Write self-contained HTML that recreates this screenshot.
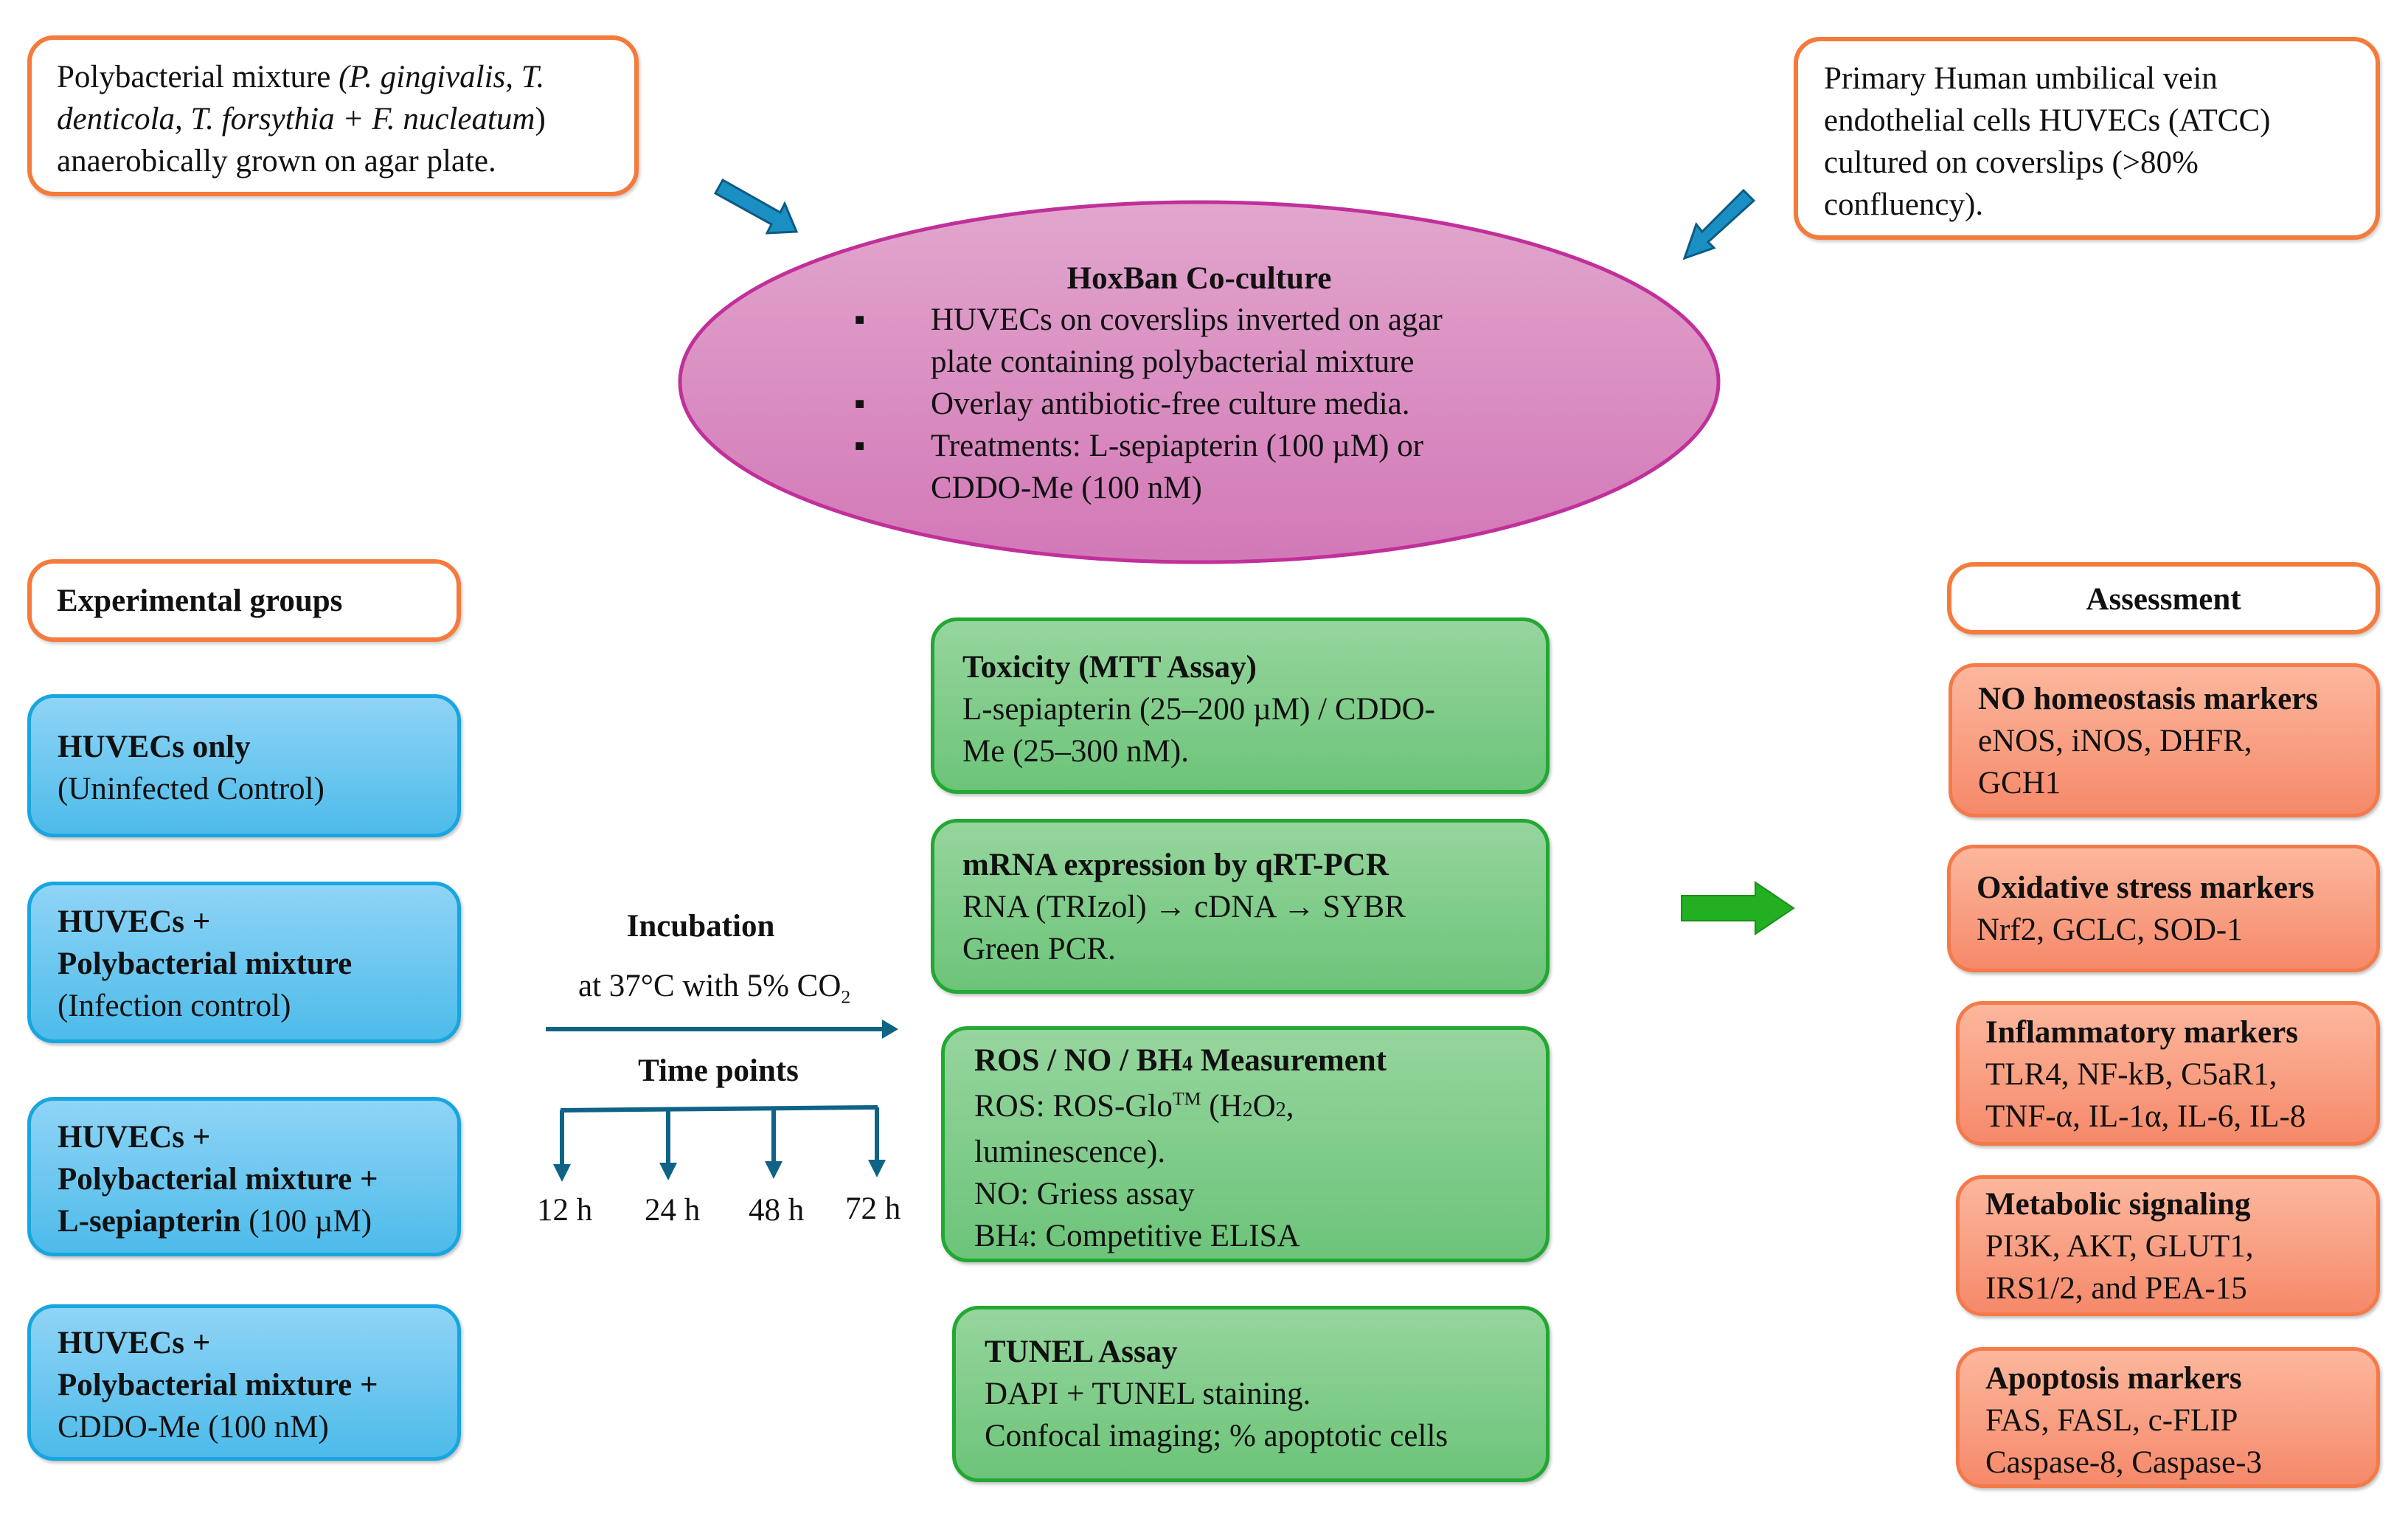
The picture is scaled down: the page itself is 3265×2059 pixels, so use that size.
<!DOCTYPE html>
<html><head><meta charset="utf-8"><style>
html,body{margin:0;padding:0;background:#fff}
body{width:3265px;height:2059px;position:relative;overflow:hidden;font-family:"Liberation Serif",serif;font-size:43px;line-height:57px;color:#111}
.b{position:absolute;box-sizing:border-box;border-radius:36px}
.w{background:#fff;border:6px solid #f47b3b;box-shadow:2px 3px 4px rgba(0,0,0,.2)}
.bl{background:linear-gradient(#8fd4f6,#4dbbea);border:5px solid #17a6df;box-shadow:2px 3px 4px rgba(0,0,0,.25)}
.g{background:linear-gradient(#96d59d,#6cc479);border:5px solid #22a833;box-shadow:2px 3px 4px rgba(0,0,0,.25)}
.o{background:linear-gradient(#fcb79d,#f6896a);border:5px solid #f47a4a;box-shadow:2px 3px 4px rgba(0,0,0,.25)}
b{font-weight:bold}
.t{position:absolute;white-space:nowrap}
sub,sup{font-size:60%;line-height:0}
</style></head><body>

<div class="b w" style="left:37px;top:48px;width:829px;height:218px;padding:22px 0 0 34px">Polybacterial mixture <i>(P. gingivalis, T.<br>denticola, T. forsythia + F. nucleatum</i>)<br>anaerobically grown on agar plate.</div>

<div class="b w" style="left:2432px;top:50px;width:795px;height:275px;padding:22px 0 0 35px">Primary Human umbilical vein<br>endothelial cells HUVECs (ATCC)<br>cultured on coverslips (&gt;80%<br>confluency).</div>

<svg style="position:absolute;left:0;top:0" width="3265" height="2059">
<defs>
<linearGradient id="el" x1="0" y1="0" x2="0" y2="1"><stop offset="0" stop-color="#e2a6cd"/><stop offset="1" stop-color="#d278b7"/></linearGradient>
</defs>
<ellipse cx="1626" cy="518" rx="704" ry="244" fill="url(#el)" stroke="#c1309a" stroke-width="5"/>
<!-- blue fat arrows -->
<g fill="#1a8fc4" stroke="#0d5a82" stroke-width="3">
<polygon points="970,262 980,244 1058,288 1064,276 1080,314 1040,316 1046,304 "/>
<polygon points="2378,272 2364,258 2308,314 2300,304 2284,350 2324,336 2316,328"/>
</g>
<!-- green arrow -->
<polygon points="2280,1214 2380,1214 2380,1196 2432,1231 2380,1266 2380,1248 2280,1248" fill="#22b022" stroke="#1a8e1a" stroke-width="2"/>
<!-- incubation arrow -->
<g stroke="#0e6387" stroke-width="6" fill="#0e6387">
<line x1="740" y1="1395" x2="1200" y2="1395"/>
<polygon points="1196,1382 1218,1395 1196,1408" stroke="none"/>
<polyline points="760,1505 1190,1501" fill="none"/>
<line x1="762" y1="1505" x2="762" y2="1582"/>
<line x1="906" y1="1504" x2="906" y2="1580"/>
<line x1="1049" y1="1503" x2="1049" y2="1578"/>
<line x1="1189" y1="1501" x2="1189" y2="1576"/>
<polygon points="750,1578 774,1578 762,1602" stroke="none"/>
<polygon points="894,1576 918,1576 906,1600" stroke="none"/>
<polygon points="1037,1574 1061,1574 1049,1598" stroke="none"/>
<polygon points="1177,1572 1201,1572 1189,1596" stroke="none"/>
</g>
</svg>

<div class="t" style="left:0;width:3252px;top:349px;text-align:center"><b>HoxBan Co-culture</b></div>
<div class="t" style="left:1158px;top:405px">▪</div>
<div class="t" style="left:1158px;top:519px">▪</div>
<div class="t" style="left:1158px;top:576px">▪</div>
<div class="t" style="left:1262px;top:405px">HUVECs on coverslips inverted on agar<br>plate containing polybacterial mixture<br>Overlay antibiotic-free culture media.<br>Treatments: L-sepiapterin (100 µM) or<br>CDDO-Me (100 nM)</div>

<div class="b w" style="left:37px;top:758px;width:588px;height:112px;padding:22px 0 0 34px"><b>Experimental groups</b></div>
<div class="b w" style="left:2640px;top:762px;width:587px;height:98px;padding:16px 0 0 0;text-align:center"><b>Assessment</b></div>

<div class="b bl" style="left:37px;top:941px;width:588px;height:194px;padding:38px 0 0 36px"><b>HUVECs only</b><br>(Uninfected Control)</div>
<div class="b bl" style="left:37px;top:1195px;width:588px;height:219px;padding:21px 0 0 36px"><b>HUVECs +<br>Polybacterial mixture</b><br>(Infection control)</div>
<div class="b bl" style="left:37px;top:1487px;width:588px;height:216px;padding:21px 0 0 36px"><b>HUVECs +<br>Polybacterial mixture +<br>L-sepiapterin</b> (100 µM)</div>
<div class="b bl" style="left:37px;top:1768px;width:588px;height:212px;padding:19px 0 0 36px"><b>HUVECs +<br>Polybacterial mixture +</b><br>CDDO-Me (100 nM)</div>

<div class="t" style="left:700px;width:500px;top:1227px;text-align:center"><b>Incubation</b></div>
<div class="t" style="left:784px;top:1308px">at 37°C with 5% CO<sub>2</sub></div>
<div class="t" style="left:724px;width:500px;top:1423px;text-align:center"><b>Time points</b></div>
<div class="t" style="left:728px;top:1612px">12 h</div>
<div class="t" style="left:874px;top:1612px">24 h</div>
<div class="t" style="left:1015px;top:1612px">48 h</div>
<div class="t" style="left:1146px;top:1610px">72 h</div>

<div class="b g" style="left:1262px;top:837px;width:839px;height:239px;padding:34px 0 0 38px"><b>Toxicity (MTT Assay)</b><br>L-sepiapterin (25–200 µM) / CDDO-<br>Me (25–300 nM).</div>
<div class="b g" style="left:1262px;top:1110px;width:839px;height:237px;padding:29px 0 0 38px"><b>mRNA expression by qRT-PCR</b><br>RNA (TRIzol) → cDNA → SYBR<br>Green PCR.</div>
<div class="b g" style="left:1276px;top:1391px;width:825px;height:320px;padding:13px 0 0 40px"><b>ROS / NO / BH<span style="font-size:28px">4</span> Measurement</b><br>ROS: ROS-Glo<sup>TM</sup> (H<span style="font-size:28px">2</span>O<span style="font-size:28px">2</span>,<br>luminescence).<br>NO: Griess assay<br>BH<span style="font-size:28px">4</span>: Competitive ELISA</div>
<div class="b g" style="left:1291px;top:1770px;width:810px;height:239px;padding:29px 0 0 39px"><b>TUNEL Assay</b><br>DAPI + TUNEL staining.<br>Confocal imaging; % apoptotic cells</div>

<div class="b o" style="left:2642px;top:899px;width:585px;height:209px;padding:15px 0 0 35px"><b>NO homeostasis markers</b><br>eNOS, iNOS, DHFR,<br>GCH1</div>
<div class="b o" style="left:2640px;top:1145px;width:587px;height:173px;padding:25px 0 0 35px"><b>Oxidative stress markers</b><br>Nrf2, GCLC, SOD-1</div>
<div class="b o" style="left:2652px;top:1357px;width:575px;height:196px;padding:9px 0 0 35px"><b>Inflammatory markers</b><br>TLR4, NF-kB, C5aR1,<br>TNF-α, IL-1α, IL-6, IL-8</div>
<div class="b o" style="left:2652px;top:1593px;width:575px;height:191px;padding:6px 0 0 35px"><b>Metabolic signaling</b><br>PI3K, AKT, GLUT1,<br>IRS1/2, and PEA-15</div>
<div class="b o" style="left:2652px;top:1826px;width:575px;height:191px;padding:9px 0 0 35px"><b>Apoptosis markers</b><br>FAS, FASL, c-FLIP<br>Caspase-8, Caspase-3</div>

</body></html>
